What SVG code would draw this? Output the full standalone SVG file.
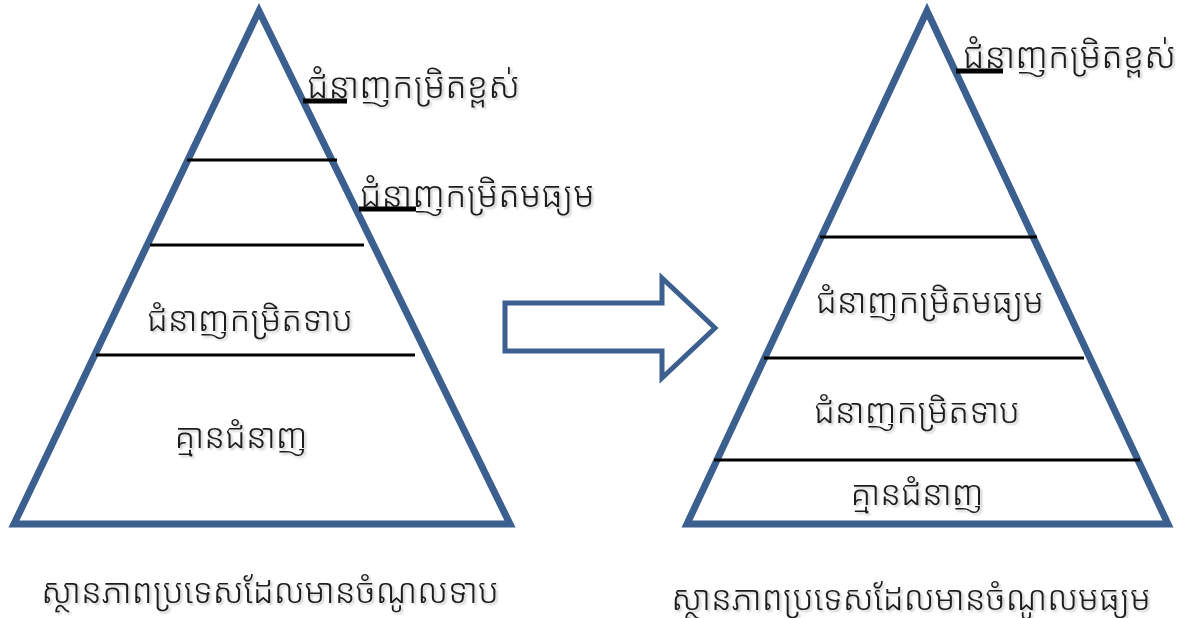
<svg xmlns="http://www.w3.org/2000/svg" width="1182" height="618" viewBox="0 0 1182 618">
<defs>
<filter id="sh" x="-5%" y="-20%" width="110%" height="140%">
<feGaussianBlur in="SourceAlpha" stdDeviation="1"/>
<feOffset dx="1.5" dy="1.5" result="b"/>
<feComponentTransfer><feFuncA type="linear" slope="0.22"/></feComponentTransfer>
<feMerge><feMergeNode/><feMergeNode in="SourceGraphic"/></feMerge>
</filter>
</defs>
<style>
.tri{fill:none;stroke:#3B5F8E;stroke-width:7;stroke-linejoin:miter}
.ln{stroke:#000;stroke-width:3}
.stub{stroke:#000;stroke-width:5}
.t{font-family:"Noto Sans Khmer","Khmer OS","Noto Sans","DejaVu Sans",sans-serif;font-size:34px;font-weight:300;fill:#1a1a1a;filter:url(#sh)}
.c{text-anchor:middle}
</style>
<rect width="1182" height="618" fill="#fff"/>
<g id="left-pyramid">
<polygon class="tri" points="259,11 14,524 510,524"/>
<line class="ln" x1="187" y1="160" x2="337" y2="160"/>
<line class="ln" x1="150" y1="245" x2="364" y2="245"/>
<line class="ln" x1="96" y1="355" x2="415" y2="355"/>
<line class="stub" x1="303" y1="101" x2="347" y2="101"/>
<line class="stub" x1="359" y1="209" x2="416" y2="209"/>
<text class="t" x="307" y="98" style="font-size:35px">ជំនាញកម្រិតខ្ពស់</text>
<text class="t" x="360" y="207" style="font-size:35px">ជំនាញកម្រិតមធ្យម</text>
<text class="t c" x="250" y="331">ជំនាញកម្រិតទាប</text>
<text class="t c" x="241" y="448">គ្មានជំនាញ</text>
</g>
<g id="arrow">
<polygon class="tri" points="505,303 662,303 662,278 715,328 662,378 662,351 505,351" style="stroke-width:5"/>
</g>
<g id="right-pyramid">
<polygon class="tri" points="927,11 687,524 1168,524"/>
<line class="ln" x1="820" y1="237" x2="1037" y2="237"/>
<line class="ln" x1="764" y1="358" x2="1084" y2="358"/>
<line class="ln" x1="714" y1="460" x2="1140" y2="460"/>
<line class="stub" x1="956" y1="71" x2="1003" y2="71"/>
<text class="t" x="963" y="68" style="font-size:35px">ជំនាញកម្រិតខ្ពស់</text>
<text class="t c" x="930" y="313">ជំនាញកម្រិតមធ្យម</text>
<text class="t c" x="917" y="423">ជំនាញកម្រិតទាប</text>
<text class="t c" x="917" y="505">គ្មានជំនាញ</text>
</g>
<g id="captions">
<text class="t c" x="270" y="603">ស្ថានភាពប្រទេសដែលមានចំណូលទាប</text>
<text class="t c" x="911" y="610">ស្ថានភាពប្រទេសដែលមានចំណូលមធ្យម</text>
</g>
</svg>
